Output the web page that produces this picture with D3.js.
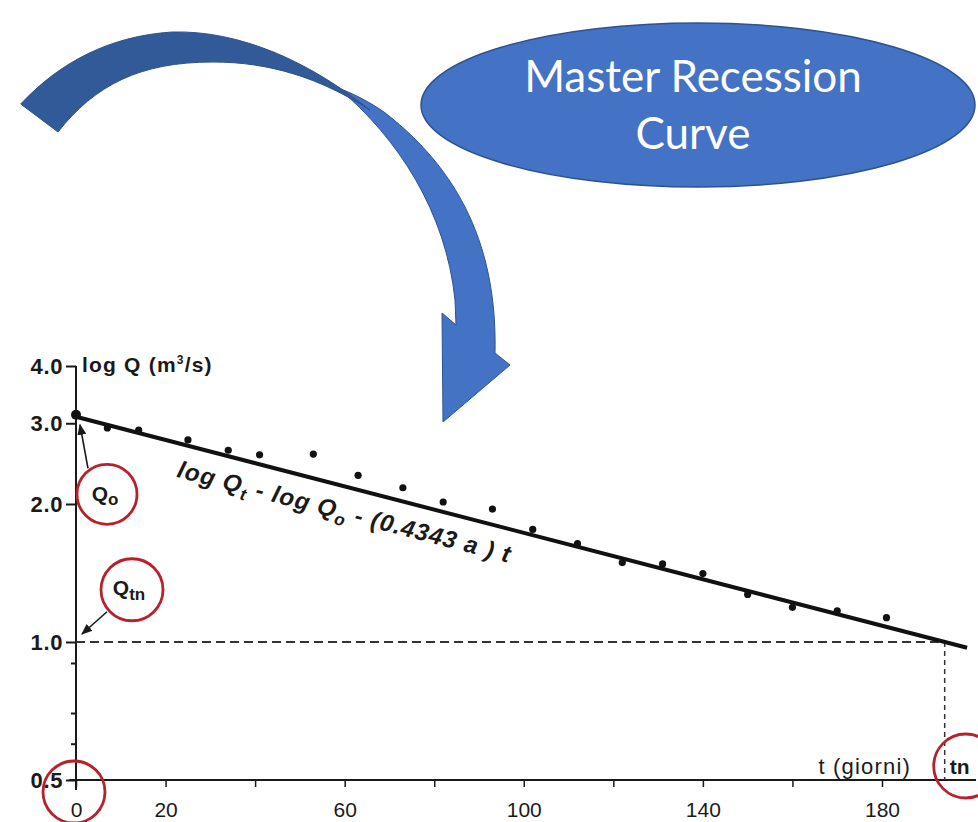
<!DOCTYPE html>
<html>
<head>
<meta charset="utf-8">
<script src="https://cdn.jsdelivr.net/npm/d3@7/dist/d3.min.js"></script>
<style>
  html, body { margin: 0; padding: 0; background: #ffffff; }
  svg { display: block; }
</style>
</head>
<body>
<script>
// Observed discharges during the recession (days, m³/s)
const tDays = [0, 7, 14, 25, 34, 41, 53, 63, 73, 82, 93, 102, 112, 122, 131, 140, 150, 160, 170, 181];
const qObs  = [3.13, 2.93, 2.90, 2.76, 2.62, 2.56, 2.57, 2.31, 2.17, 2.02, 1.95, 1.76, 1.64, 1.49, 1.48, 1.41, 1.27, 1.19, 1.17, 1.13];

// Fitted master recession: log Qt = log Q0 - (0.4343 a) t
const q0 = 3.1;        // discharge at t = 0
const qTn = 1.0;       // threshold discharge
const tn = 194;        // day at which the curve reaches qTn
const tLineEnd = 199;  // the drawn line runs slightly past tn

// Axis ticks
const yTicks = [0.5, 1, 2, 3, 4];
const yMinorTicks = [0.6, 0.7, 0.9];
const xTicks = [0, 20, 40, 60, 80, 100, 120, 140, 160, 180];
const xTickLabels = [0, 20, 60, 100, 140, 180];

const W = 978, H = 822;
const svg = d3.select("body").append("svg").attr("width", W).attr("height", H);

const x = d3.scaleLinear().domain([0, 180]).range([76, 882]);
const y = d3.scaleLog().domain([0.5, 4]).range([780, 366]);

const alpha = Math.log10(q0 / qTn) / tn / 0.4343;          // recession coefficient
const qFit = t => Math.pow(10, Math.log10(q0) - 0.4343 * alpha * t);

// ---------- callout: ellipse and curved arrow ----------
const blue = "#4472C4", blueDark = "#335A98", blueEdge = "#2F528F";

svg.append("path")
  .attr("d", "M 338,88 C 398,138 446,212 455,300 L 456,325 L 442,313 L 443,422 L 510,365 L 495,353 " +
             "C 497,262 470,178 384,112 C 368,101 352,93 338,88 Z")
  .attr("fill", blue).attr("stroke", blueEdge).attr("stroke-width", 1);

svg.append("path")
  .attr("d", "M 20.7,104 C 60,62 110,36 172,32 C 240,30 310,62 370,110 " +
             "C 320,78 270,62 213,62 C 140,62 95,85 58,132 Z")
  .attr("fill", blueDark).attr("stroke", blueEdge).attr("stroke-width", 1);

svg.append("ellipse")
  .attr("cx", 698).attr("cy", 105).attr("rx", 277).attr("ry", 82)
  .attr("fill", blue).attr("stroke", blueEdge).attr("stroke-width", 1.5);

const title = svg.append("text")
  .attr("x", 693).attr("text-anchor", "middle")
  .attr("font-family", "Lato, 'Open Sans', sans-serif").attr("font-size", 44)
  .attr("fill", "#ffffff");
title.append("tspan").attr("x", 693).attr("y", 92).text("Master Recession");
title.append("tspan").attr("x", 693).attr("y", 149).text("Curve");

// ---------- chart ----------
const font = "'Liberation Sans', Arial, sans-serif";
const g = svg.append("g").attr("font-family", font).attr("fill", "#1a1a1a");
const ink = "#1a1a1a";

// axis lines
g.append("line").attr("x1", x(0)).attr("x2", x(0)).attr("y1", y(4)).attr("y2", y(0.5) + 10)
  .attr("stroke", ink).attr("stroke-width", 2);
g.append("line").attr("x1", x(-1.5)).attr("x2", x(201)).attr("y1", y(0.5)).attr("y2", y(0.5))
  .attr("stroke", ink).attr("stroke-width", 2);

// y axis
const yAxis = g.append("g").attr("transform", `translate(${x(0)},0)`)
  .call(d3.axisLeft(y).tickValues(yTicks).tickFormat(d3.format(".1f")).tickSize(10).tickPadding(3));
yAxis.select(".domain").remove();
yAxis.selectAll("line").attr("stroke", ink).attr("stroke-width", 2);
yAxis.selectAll("text").attr("font-size", 22).attr("font-weight", "bold").attr("letter-spacing", 0.6)
  .attr("font-family", font).attr("fill", ink);

const yMinor = g.append("g").attr("transform", `translate(${x(0)},0)`)
  .call(d3.axisLeft(y).tickValues(yMinorTicks).tickFormat("").tickSize(5));
yMinor.select(".domain").remove();
yMinor.selectAll("line").attr("stroke", ink).attr("stroke-width", 2);

// x axis
const xAxis = g.append("g").attr("transform", `translate(0,${y(0.5)})`)
  .call(d3.axisBottom(x).tickValues(xTicks)
    .tickFormat(d => xTickLabels.includes(d) ? d : "").tickSize(7).tickPadding(15));
xAxis.select(".domain").remove();
xAxis.selectAll("line").attr("stroke", ink).attr("stroke-width", 1.5);
xAxis.selectAll("text").attr("font-size", 21)
  .attr("font-family", font).attr("fill", ink);

// axis titles
const yTitle = g.append("text").attr("x", x(0) + 6).attr("y", y(4) + 6)
  .attr("font-size", 21).attr("font-weight", "bold").attr("letter-spacing", 1.2);
yTitle.append("tspan").text("log Q  (m");
yTitle.append("tspan").attr("font-size", 12).attr("dy", -8).text("3");
yTitle.append("tspan").attr("dy", 8).text("/s)");

g.append("text").attr("x", x(186.5)).attr("y", y(0.5) - 6).attr("text-anchor", "end")
  .attr("font-size", 22).attr("letter-spacing", 1.2).text("t  (giorni)");

// dashed guides at Qtn and tn
g.append("line").attr("x1", x(0)).attr("x2", x(tn)).attr("y1", y(qTn)).attr("y2", y(qTn))
  .attr("stroke", "#333").attr("stroke-width", 2).attr("stroke-dasharray", "9,5");
g.append("line").attr("x1", x(tn)).attr("x2", x(tn)).attr("y1", y(qTn)).attr("y2", y(0.5))
  .attr("stroke", "#333").attr("stroke-width", 1.5).attr("stroke-dasharray", "5,4");

// fitted recession line
const fitPts = [0, tLineEnd].map(t => [x(t), y(qFit(t))]);
g.append("path").attr("d", d3.line()(fitPts))
  .attr("fill", "none").attr("stroke", "#111").attr("stroke-width", 4);

// observed points
g.selectAll("circle.obs").data(tDays.map((t, i) => ({ t, q: qObs[i] })))
  .join("circle").attr("class", "obs")
  .attr("cx", d => x(d.t)).attr("cy", d => y(d.q))
  .attr("r", (d, i) => i === 0 ? 5 : 3.6).attr("fill", "#111");

// equation along the line
const angle = Math.atan2(fitPts[1][1] - fitPts[0][1], fitPts[1][0] - fitPts[0][0]) * 180 / Math.PI;
const eq = g.append("g")
  .attr("transform", `translate(${x(24.2)},${y(qFit(24.2))}) rotate(${angle})`)
  .append("text").attr("x", 0).attr("y", 33)
  .attr("font-size", 24).attr("font-style", "italic").attr("font-weight", "bold");
eq.append("tspan").text("log Q");
eq.append("tspan").attr("font-size", 17).attr("dy", 6).text("t");
eq.append("tspan").attr("dy", -6).text("  -  log Q");
eq.append("tspan").attr("font-size", 17).attr("dy", 6).text("o");
eq.append("tspan").attr("dy", -6).text("  -  (0.4343 a ) t");
// stretch the spacing so the formula runs the length of its stretch of line
const eqTarget = 348;
const eqLen = eq.node().getComputedTextLength();
const eqChars = eq.text().length;
eq.attr("letter-spacing", Math.max(0, (eqTarget - eqLen) / eqChars));

// arrow markers for the call-outs
const defs = svg.append("defs");
defs.append("marker").attr("id", "head").attr("viewBox", "0 0 10 10")
  .attr("refX", 9).attr("refY", 5).attr("markerWidth", 7).attr("markerHeight", 7)
  .attr("orient", "auto-start-reverse")
  .append("path").attr("d", "M0,1 L10,5 L0,9 Z").attr("fill", ink);

// red circled annotations
const red = "#B8202A";
function ring(cx, cy, r) {
  g.append("circle").attr("cx", cx).attr("cy", cy).attr("r", r)
    .attr("fill", "none").attr("stroke", red).attr("stroke-width", 2.8);
}

// Q0
const q0c = [x(0) + 31, y(2.1)];
g.append("line").attr("x1", q0c[0] - 19).attr("y1", q0c[1] - 26)
  .attr("x2", x(0) + 4).attr("y2", y(q0) + 8)
  .attr("stroke", ink).attr("stroke-width", 1.6).attr("marker-end", "url(#head)");
ring(q0c[0], q0c[1], 30);
const q0t = g.append("text").attr("x", q0c[0] - 2).attr("y", q0c[1] + 7)
  .attr("text-anchor", "middle").attr("font-size", 21).attr("font-weight", "bold");
q0t.append("tspan").text("Q");
q0t.append("tspan").attr("font-size", 17).attr("dy", 4).text("o");

// Qtn
const qtc = [x(0) + 56, y(1.3)];
g.append("line").attr("x1", qtc[0] - 25).attr("y1", qtc[1] + 22)
  .attr("x2", x(0) + 6).attr("y2", y(qTn) - 8)
  .attr("stroke", ink).attr("stroke-width", 1.6).attr("marker-end", "url(#head)");
ring(qtc[0], qtc[1], 31);
const qtt = g.append("text").attr("x", qtc[0] - 3).attr("y", qtc[1] + 5)
  .attr("text-anchor", "middle").attr("font-size", 21).attr("font-weight", "bold");
qtt.append("tspan").text("Q");
qtt.append("tspan").attr("font-size", 17).attr("dy", 5).text("tn");

// origin and tn
ring(x(0) - 2, y(0.5) + 12, 31);
ring(x(tn) + 21, y(0.5) - 14, 32);
g.append("text").attr("x", x(tn) + 5).attr("y", y(0.5) - 6)
  .attr("font-size", 21).attr("font-weight", "bold").text("tn");
</script>
</body>
</html>
